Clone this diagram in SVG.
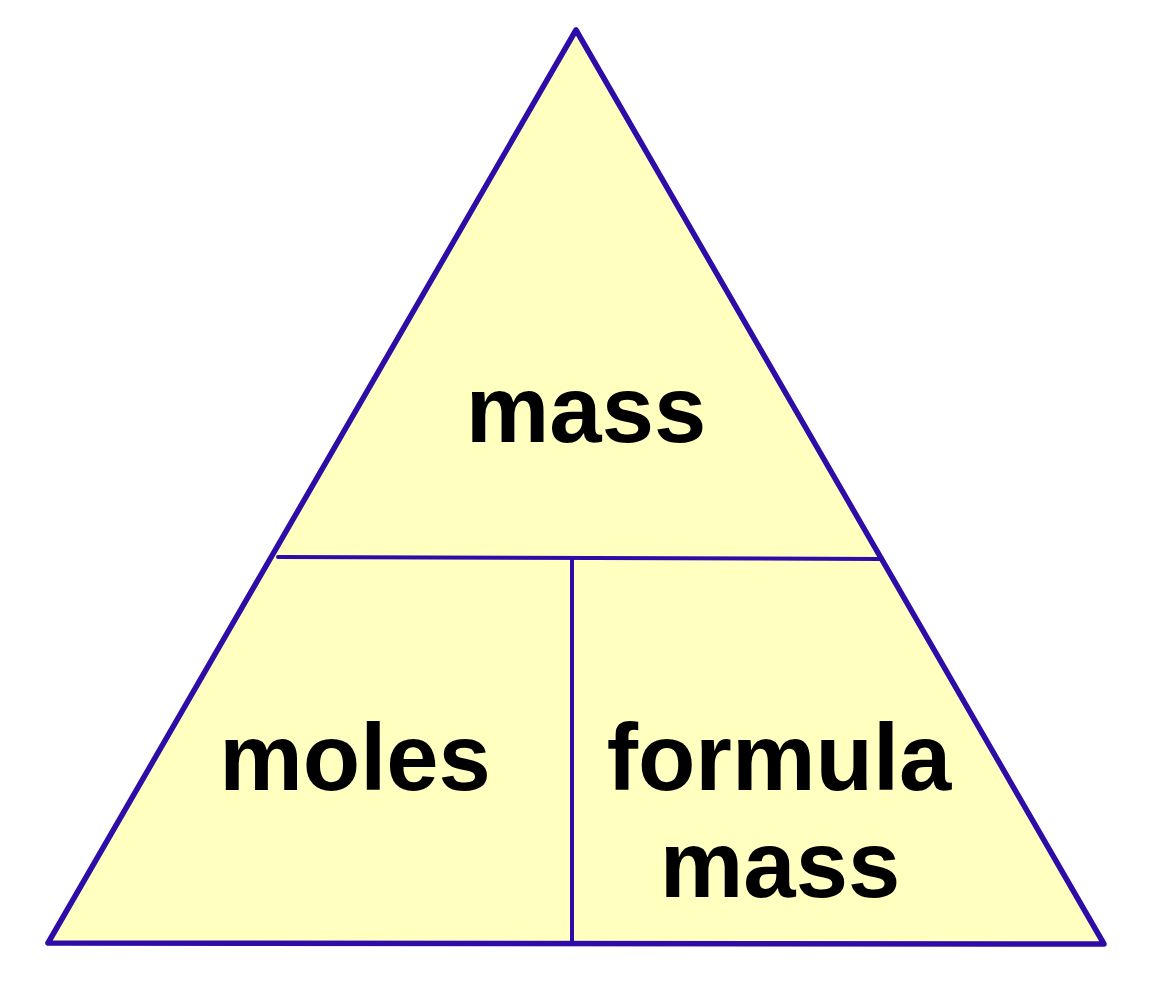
<svg xmlns="http://www.w3.org/2000/svg" width="1161" height="999" viewBox="0 0 1161 999">
<style>
.edge{stroke:#2E0CA8;fill:none;stroke-linecap:round;stroke-linejoin:round}
.lbl{font-family:"Liberation Sans",Arial,sans-serif;font-weight:bold;font-size:94px;fill:#000;text-anchor:middle}
</style>
<rect width="1161" height="999" fill="#fff"/>
<g id="triangle">
<polygon points="576,30 48,943 1104,944" fill="#FFFFC0" stroke="#2E0CA8" stroke-width="5.5" stroke-linejoin="round"/>
</g>
<g id="connectors">
<line class="edge" x1="278" y1="557" x2="880" y2="559" stroke-width="4"/>
<line class="edge" x1="572" y1="560" x2="572" y2="943" stroke-width="4"/>
</g>
<g id="node-mass"><text class="lbl" x="586" y="442">mass</text></g>
<g id="node-moles"><text class="lbl" x="355" y="790">moles</text></g>
<g id="node-formula-mass"><text class="lbl" x="779" y="790">formula</text><text class="lbl" x="780" y="897">mass</text></g>
</svg>
